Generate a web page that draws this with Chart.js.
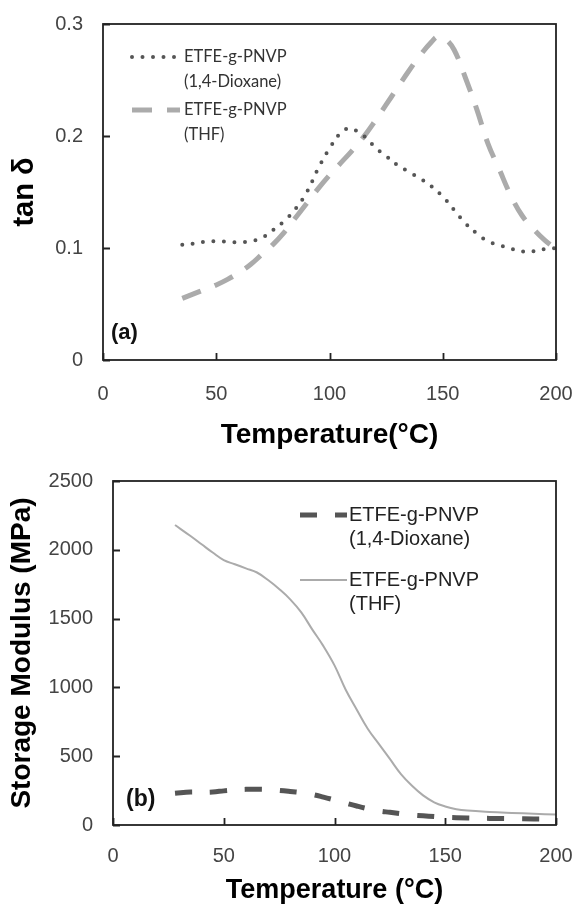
<!DOCTYPE html>
<html>
<head>
<meta charset="utf-8">
<script src="https://cdn.jsdelivr.net/npm/chart.js@4.4.1/dist/chart.umd.min.js"></script>
<style>
body{margin:0;background:#fff;}
.panel{position:absolute;left:0;width:576px;}
</style>
</head>
<body>
<div class="panel" style="top:0;height:452px"><canvas id="tanChart" width="576" height="452"></canvas></div>
<div class="panel" style="top:452px;height:456px"><canvas id="modChart" width="576" height="456"></canvas></div>
<script>
// (a) tan delta vs temperature
let tanTempDiox = [35, 40, 45, 50, 55, 60, 65, 70, 75, 80, 85, 90, 95, 100, 105, 109, 113, 117, 120, 125, 130, 135, 140, 145, 150, 155, 160, 165, 170, 175, 180, 185, 190, 195, 200];
let tanDiox = [0.103, 0.104, 0.1055, 0.106, 0.1055, 0.105, 0.106, 0.109, 0.116, 0.124, 0.135, 0.150, 0.171, 0.189, 0.203, 0.207, 0.203, 0.197, 0.190, 0.182, 0.174, 0.168, 0.162, 0.155, 0.146, 0.134, 0.122, 0.113, 0.106, 0.1025, 0.0995, 0.097, 0.097, 0.099, 0.100];
let tanTempThf = [35, 40, 45, 50, 55, 60, 65, 70, 75, 80, 85, 90, 95, 100, 105, 110, 115, 120, 125, 130, 135, 140, 145, 148, 151, 155, 160, 165, 170, 175, 180, 185, 190, 195, 200];
let tanThf = [0.055, 0.059, 0.063, 0.067, 0.072, 0.078, 0.085, 0.094, 0.103, 0.114, 0.127, 0.140, 0.153, 0.165, 0.176, 0.187, 0.199, 0.213, 0.228, 0.243, 0.258, 0.272, 0.284, 0.289, 0.287, 0.277, 0.252, 0.224, 0.193, 0.170, 0.147, 0.129, 0.117, 0.107, 0.099];

// (b) storage modulus vs temperature
let modTempDiox = [28, 35, 40, 45, 50, 55, 60, 65, 70, 75, 80, 85, 90, 95, 100, 105, 110, 115, 120, 125, 130, 135, 140, 145, 150, 160, 170, 180, 190, 200];
let modDiox = [230, 240, 238, 240, 248, 255, 259, 260, 258, 252, 244, 235, 222, 203, 182, 160, 138, 118, 102, 92, 82, 73, 67, 61, 56, 51, 48, 46, 44, 43];
let modTempThf = [28, 35, 40, 45, 50, 55, 60, 65, 70, 75, 80, 85, 90, 95, 100, 105, 110, 115, 120, 125, 130, 135, 140, 145, 150, 155, 160, 170, 180, 190, 200];
let modThf = [2180, 2100, 2040, 1980, 1925, 1895, 1865, 1835, 1780, 1715, 1640, 1545, 1420, 1300, 1160, 985, 840, 700, 590, 480, 370, 285, 215, 165, 135, 115, 105, 95, 88, 82, 76];

let tempTicks = [0, 50, 100, 150, 200];
let tanTicks = [0, 0.1, 0.2, 0.3];
let modTicks = [0, 500, 1000, 1500, 2000, 2500];
let legendDiox = ['ETFE-g-PNVP', '(1,4-Dioxane)'];
let legendThf = ['ETFE-g-PNVP', '(THF)'];

function pts(xs, ys){
  return xs.map((x, i) => ({x: x, y: ys[i]}));
}

// box round the plot, inward tick marks, panel tag and legend
let frame = {
  id: 'frame',
  afterDraw(chart, args, o){
    let ctx = chart.ctx, a = chart.chartArea;
    let xs = chart.scales.x, ys = chart.scales.y;
    ctx.save();
    ctx.strokeStyle = '#222';
    ctx.lineWidth = 1.8;
    ctx.beginPath();
    xs.ticks.forEach(t => {
      let px = Math.round(xs.getPixelForValue(t.value)) + 0.5;
      ctx.moveTo(px, a.bottom); ctx.lineTo(px, a.bottom - 7);
    });
    ys.ticks.forEach(t => {
      let py = Math.round(ys.getPixelForValue(t.value)) + 0.5;
      ctx.moveTo(a.left, py); ctx.lineTo(a.left + 7, py);
    });
    ctx.stroke();
    ctx.strokeRect(a.left, a.top, a.right - a.left, a.bottom - a.top);

    ctx.fillStyle = '#111';
    ctx.font = o.tagFont;
    ctx.textBaseline = 'middle';
    ctx.textAlign = 'left';
    ctx.fillText(o.tag, a.left + o.tagX, a.bottom - o.tagY);

    chart.data.datasets.forEach((d, i) => {
      let y = a.top + o.legY + i * o.legStep;
      ctx.save();
      ctx.strokeStyle = d.borderColor;
      ctx.lineWidth = d.borderWidth;
      ctx.lineCap = d.borderCapStyle || 'butt';
      ctx.setLineDash(d.borderDash || []);
      ctx.beginPath();
      ctx.moveTo(a.left + o.legX0, y);
      ctx.lineTo(a.left + o.legX1, y);
      ctx.stroke();
      ctx.restore();
      ctx.fillStyle = o.legColor;
      ctx.font = o.legFont;
      d.legendLines.forEach((s, k) => ctx.fillText(s, a.left + o.legText, y + k * o.legLine));
    });
    ctx.restore();
  }
};

function axisX(title, titleFont, pb, h, tp){
  return {
    type: 'linear', min: 0, max: 200,
    afterBuildTicks: s => { s.ticks = tempTicks.map(v => ({value: v})); },
    afterFit: s => { s.height = h; s.paddingLeft = 0; s.paddingRight = 0; },
    grid: {display: false}, border: {display: false},
    ticks: {color: '#444', font: {family: 'Liberation Sans', size: 20}, padding: tp, maxRotation: 0, callback: v => String(v)},
    title: {display: true, text: title, color: '#000', font: {family: 'Liberation Sans', size: titleFont, weight: 'bold', lineHeight: 1}, padding: {top: 0, bottom: pb}}
  };
}

function axisY(title, titleFont, max, tickList, pt, w){
  return {
    type: 'linear', min: 0, max: max,
    afterBuildTicks: s => { s.ticks = tickList.map(v => ({value: v})); },
    afterFit: s => { s.width = w; s.paddingTop = 0; s.paddingBottom = 0; },
    grid: {display: false}, border: {display: false},
    ticks: {color: '#444', font: {family: 'Liberation Sans', size: 20}, padding: 12, callback: v => String(v)},
    title: {display: true, text: title, color: '#000', font: {family: 'Liberation Sans', size: titleFont, weight: 'bold', lineHeight: 1}, padding: {top: pt, bottom: 0}}
  };
}

let tanChart = new Chart(document.getElementById('tanChart'), {
  type: 'line',
  data: {
    datasets: [{
      label: legendDiox.join(' '),
      legendLines: legendDiox,
      data: pts(tanTempDiox, tanDiox),
      borderColor: '#555555',
      borderWidth: 4,
      borderDash: [0, 10.5],
      borderCapStyle: 'round',
      pointRadius: 0,
      tension: 0.4
    }, {
      label: legendThf.join(' '),
      legendLines: legendThf,
      data: pts(tanTempThf, tanThf),
      borderColor: '#ababab',
      borderWidth: 5,
      borderDash: [20, 15],
      pointRadius: 0,
      tension: 0.4
    }]
  },
  options: {
    responsive: false,
    animation: false,
    layout: {padding: {left: 0, right: 20, top: 24, bottom: 0}},
    scales: {
      x: axisX('Temperature(°C)', 28, 3, 92, 14),
      y: axisY('tan δ', 29, 0.3, tanTicks, 10, 103)
    },
    plugins: {
      legend: {display: false},
      tooltip: {enabled: false},
      frame: {
        tag: '(a)', tagFont: 'bold 22px "Liberation Sans"', tagX: 8, tagY: 27,
        legX0: 29, legX1: 77, legText: 81, legY: 33, legStep: 53, legLine: 25,
        legFont: '16.5px Lato', legColor: '#333'
      }
    }
  },
  plugins: [frame]
});

let modChart = new Chart(document.getElementById('modChart'), {
  type: 'line',
  data: {
    datasets: [{
      label: legendDiox.join(' '),
      legendLines: legendDiox,
      data: pts(modTempDiox, modDiox),
      borderColor: '#555555',
      borderWidth: 5,
      borderDash: [17, 18],
      pointRadius: 0,
      tension: 0.4
    }, {
      label: legendThf.join(' '),
      legendLines: legendThf,
      data: pts(modTempThf, modThf),
      borderColor: '#ababab',
      borderWidth: 2,
      pointRadius: 0,
      tension: 0.4
    }]
  },
  options: {
    responsive: false,
    animation: false,
    layout: {padding: {left: 0, right: 20, top: 29, bottom: 0}},
    scales: {
      x: axisX('Temperature (°C)', 27, 4, 83, 11),
      y: axisY('Storage Modulus (MPa)', 28, 2500, modTicks, 8, 113)
    },
    plugins: {
      legend: {display: false},
      tooltip: {enabled: false},
      frame: {
        tag: '(b)', tagFont: 'bold 23px "Liberation Sans"', tagX: 13, tagY: 25,
        legX0: 187, legX1: 234, legText: 236, legY: 34, legStep: 65, legLine: 24,
        legFont: '20px "Liberation Sans"', legColor: '#222'
      }
    }
  },
  plugins: [frame]
});
</script>
</body>
</html>
